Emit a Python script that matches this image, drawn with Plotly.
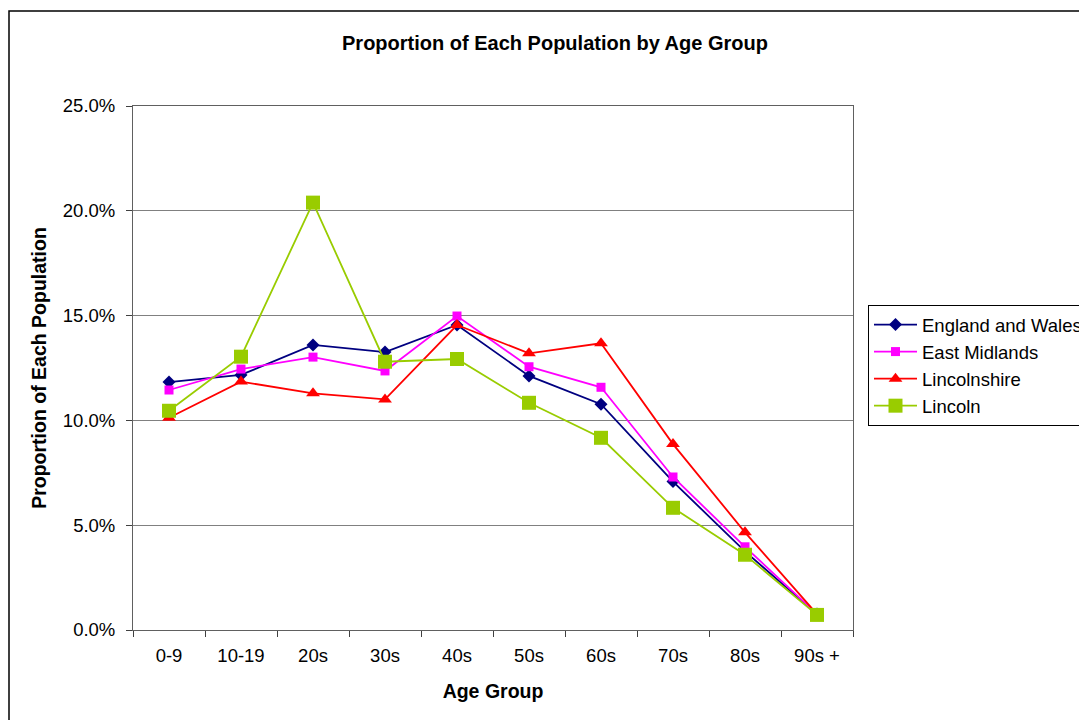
import plotly.graph_objects as go

age_groups = ["0-9", "10-19", "20s", "30s", "40s", "50s", "60s", "70s", "80s", "90s +"]
england_wales = [11.83, 12.17, 13.60, 13.26, 14.55, 12.12, 10.77, 7.08, 3.75, 0.76]
east_midlands = [11.45, 12.45, 13.02, 12.36, 14.98, 12.56, 11.58, 7.30, 3.97, 0.76]
lincolnshire = [10.13, 11.85, 11.29, 11.00, 14.55, 13.20, 13.68, 8.87, 4.66, 0.76]
lincoln = [10.46, 13.04, 20.39, 12.80, 12.93, 10.84, 9.17, 5.83, 3.59, 0.72]

series = [
    ("England and Wales", [v / 100 for v in england_wales], "#000080", "diamond", 10),
    ("East Midlands", [v / 100 for v in east_midlands], "#FF00FF", "square", 9),
    ("Lincolnshire", [v / 100 for v in lincolnshire], "#FF0000", "triangle-up", 12),
    ("Lincoln", [v / 100 for v in lincoln], "#99CC00", "square", 14),
]

fig = go.Figure()
for name, vals, color, sym, size in series:
    fig.add_trace(go.Scatter(
        x=age_groups, y=vals, name=name, mode="lines+markers",
        line=dict(color=color, width=1.8),
        marker=dict(symbol=sym, size=size, color=color, line=dict(width=0)),
    ))

# page body adds an 8px offset; target plot area on screen: x 133..853, y 106..630
OFF = 8
PL, PR, PT, PB = 133, 853, 106, 630
W, H = PR - PL, PB - PT
L = PL - OFF
T = PT - OFF
R = 1087 - L - W
B = 720 - T - H

fig.update_layout(
    width=1087, height=720,
    margin=dict(l=L, r=R, t=T, b=B, autoexpand=False),
    paper_bgcolor="white", plot_bgcolor="white",
    font=dict(family="Liberation Sans, Arial, sans-serif", size=18, color="black"),
    title=dict(text="<b>Proportion of Each Population by Age Group</b>",
               x=(555 - PL) / W, xref="paper", xanchor="center",
               y=1 - (43 - OFF) / 720, yanchor="middle", yref="container",
               font=dict(size=20)),
    showlegend=True,
    legend=dict(x=(868 - PL) / W, y=(PB - 305) / H, xanchor="left", yanchor="top",
                bordercolor="black", borderwidth=1, bgcolor="white",
                font=dict(size=18.5), tracegroupgap=0, itemwidth=43),
    xaxis=dict(
        type="category", range=[-0.5, 9.5],
        showline=True, linecolor="#606060", linewidth=1, mirror=True,
        ticks="outside", tickson="boundaries", ticklen=6, tickcolor="#404040",
        showgrid=False, tickfont=dict(size=18.5), ticklabelstandoff=9,
        title=dict(text="<b>Age Group</b>", font=dict(size=19.5), standoff=19),
    ),
    yaxis=dict(
        range=[0, 0.25], tickvals=[0, 0.05, 0.10, 0.15, 0.20, 0.25],
        tickformat=".1%", showline=True, linecolor="#606060", linewidth=1, mirror=True,
        ticks="outside", ticklen=6, tickcolor="#404040",
        showgrid=True, gridcolor="#808080", gridwidth=1, zeroline=False,
        tickfont=dict(size=18.5), ticklabelstandoff=7,
        title=dict(text="<b>Proportion of Each Population</b>", font=dict(size=19.5), standoff=11),
    ),
)

fig.add_shape(type="rect", xref="paper", yref="paper",
              x0=(9 - PL) / W, x1=(1100 - PL) / W,
              y0=(PB - 740) / H, y1=(PB - 11) / H,
              line=dict(color="black", width=1.5), fillcolor="rgba(0,0,0,0)", layer="below")

fig.write_html("out.html")
